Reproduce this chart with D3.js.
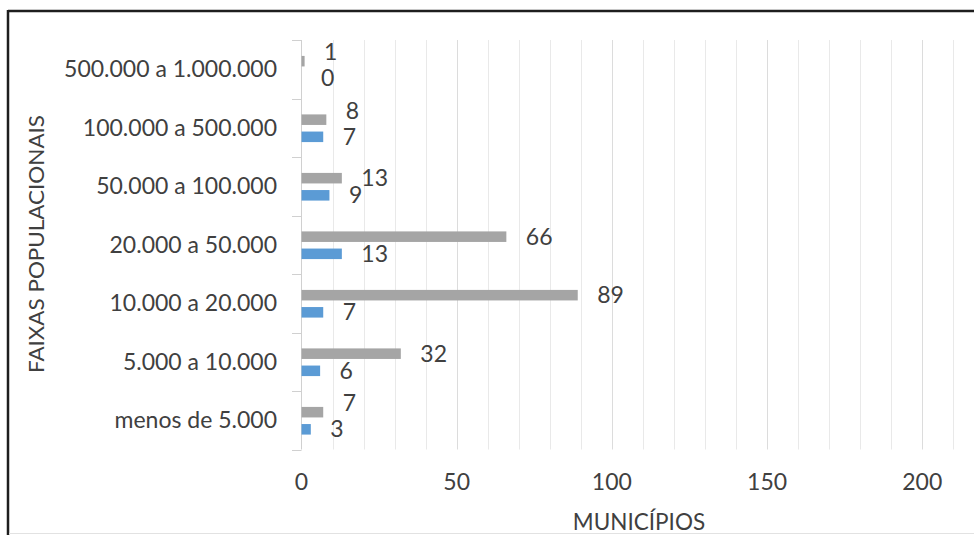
<!DOCTYPE html>
<html>
<head>
<title>Faixas populacionais</title>
<meta charset="utf-8">
<style>
body { margin: 0; background: #fff; }
text { font-family: Lato, "Open Sans", sans-serif; fill: #404040; }
.grid line { stroke: #e9e9e9; stroke-width: 1px; }
.grid line.major { stroke: #dcdcdc; }
</style>
<script src="https://d3js.org/d3.v7.min.js"></script>
</head>
<body>
<div id="chart"></div>
<script>

// data
var categories = ["500.000 a 1.000.000", "100.000 a 500.000", "50.000 a 100.000",
                  "20.000 a 50.000", "10.000 a 20.000", "5.000 a 10.000", "menos de 5.000"];
var grayValues = [1, 8, 13, 66, 89, 32, 7];
var blueValues = [0, 7, 9, 13, 7, 6, 3];
var xTicks = [0, 50, 100, 150, 200];
var xTitle = "MUNICÍPIOS";
var yTitle = "FAIXAS POPULACIONAIS";

var W = 974, H = 535;
var fontSize = 23;
var labelGap = 19.5;

var svg = d3.select("#chart").append("svg")
    .attr("width", W)
    .attr("height", H);

// scales
var x = d3.scaleLinear().domain([0, 210]).range([301.5, 953.3]);
var y = d3.scaleBand().domain(categories).range([40, 449.5]).padding(0);
var bw = y.bandwidth();

// frame round the picture
svg.append("line").attr("x1", 8).attr("x2", W).attr("y1", 11).attr("y2", 11)
    .attr("stroke", "#1e1e1e").attr("stroke-width", 2.5);
svg.append("line").attr("x1", 8).attr("x2", 8).attr("y1", 10).attr("y2", H)
    .attr("stroke", "#1e1e1e").attr("stroke-width", 2.5);
svg.append("line").attr("x1", 9).attr("x2", W).attr("y1", 533.5).attr("y2", 533.5)
    .attr("stroke", "#e2e2e2").attr("stroke-width", 1);

// vertical gridlines every 10
svg.append("g").attr("class", "grid")
  .selectAll("line")
  .data(d3.range(10, 211, 10))
  .enter().append("line")
    .attr("class", function(d) { return d % 50 === 0 ? "major" : null; })
    .attr("x1", function(d) { return Math.round(x(d)) + 0.5; })
    .attr("x2", function(d) { return Math.round(x(d)) + 0.5; })
    .attr("y1", y.range()[0])
    .attr("y2", y.range()[1]);

// category axis with ticks between bands
var yAxis = svg.append("g");
yAxis.append("line")
    .attr("x1", 301.5).attr("x2", 301.5)
    .attr("y1", y.range()[0]).attr("y2", y.range()[1])
    .attr("stroke", "#d0d0d0");
yAxis.selectAll("line.tick")
  .data(categories.map(function(c) { return y(c); }).concat([y.range()[1]]))
  .enter().append("line")
    .attr("class", "tick")
    .attr("x1", 292).attr("x2", 301.5)
    .attr("y1", function(d) { return Math.round(d) + 0.5; })
    .attr("y2", function(d) { return Math.round(d) + 0.5; })
    .attr("stroke", "#d0d0d0");

yAxis.selectAll("text")
  .data(categories)
  .enter().append("text")
    .attr("x", 277)
    .attr("y", function(d) { return y(d) + bw / 2; })
    .attr("dy", "0.35em")
    .attr("text-anchor", "end")
    .style("font-size", fontSize + "px")
    .text(function(d) { return d; });

// x tick labels
svg.append("g").selectAll("text")
  .data(xTicks)
  .enter().append("text")
    .attr("x", function(d) { return x(d); })
    .attr("y", 490)
    .attr("text-anchor", "middle")
    .style("font-size", fontSize + "px")
    .text(function(d) { return d; });

// bars
var barH = bw * 0.18;
var grayOff = bw * 0.272, blueOff = bw * 0.565;

svg.append("g").selectAll("rect")
  .data(categories)
  .enter().append("rect")
    .attr("x", x(0))
    .attr("y", function(d) { return y(d) + grayOff; })
    .attr("width", function(d, i) { return x(grayValues[i]) - x(0); })
    .attr("height", barH)
    .attr("fill", "#a5a5a5");

svg.append("g").selectAll("rect")
  .data(categories)
  .enter().append("rect")
    .attr("x", x(0))
    .attr("y", function(d) { return y(d) + blueOff; })
    .attr("width", function(d, i) { return x(blueValues[i]) - x(0); })
    .attr("height", barH)
    .attr("fill", "#5b9bd5");

// value labels
svg.append("g").selectAll("text")
  .data(categories)
  .enter().append("text")
    .attr("x", function(d, i) { return x(blueValues[i]) + labelGap; })
    .attr("y", function(d) { return y(d) + blueOff + barH / 2; })
    .attr("dy", "0.35em")
    .style("font-size", fontSize + "px")
    .text(function(d, i) { return blueValues[i]; });

// the short gray labels sit right above the blue one, so they go up a bit
svg.append("g").selectAll("text")
  .data(categories)
  .enter().append("text")
    .attr("x", function(d, i) { return x(grayValues[i]) + labelGap; })
    .attr("y", function(d, i) {
      var yy = y(d) + grayOff + barH / 2;
      if (grayValues[i] < 10) yy -= 9;
      return yy;
    })
    .attr("dy", "0.35em")
    .style("font-size", fontSize + "px")
    .text(function(d, i) { return grayValues[i]; });

// axis titles
svg.append("text")
    .attr("x", 639)
    .attr("y", 530)
    .attr("text-anchor", "middle")
    .style("font-size", "22.5px")
    .text(xTitle);

svg.append("text")
    .attr("transform", "translate(44,244) rotate(-90)")
    .attr("text-anchor", "middle")
    .attr("textLength", 258)
    .attr("lengthAdjust", "spacingAndGlyphs")
    .style("font-size", "22px")
    .text(yTitle);

</script>
</body>
</html>
